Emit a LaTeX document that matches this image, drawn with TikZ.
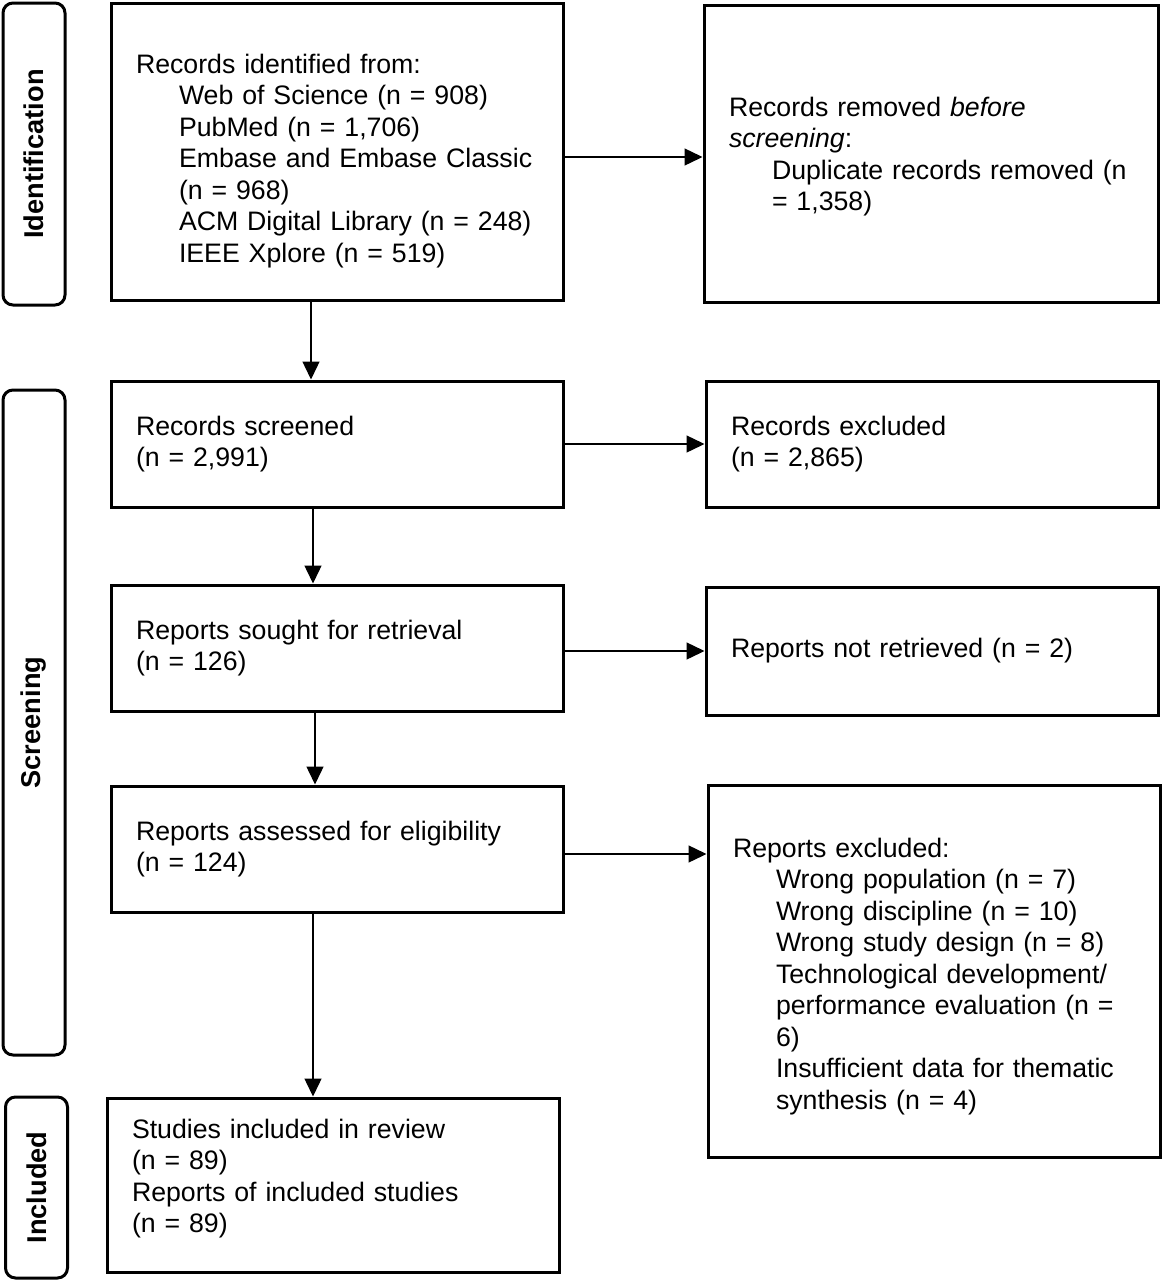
\documentclass[tikz,border=0pt]{standalone}
\usepackage{fontspec}
\setmainfont{Liberation Sans}
\usetikzlibrary{arrows.meta}

\newcommand{\ind}[1]{\mbox{\hspace*{21.5pt}#1}}

\begin{document}
\begin{tikzpicture}[x=0.5pt,y=-0.5pt,
    font=\fontsize{13.35}{15.75}\selectfont,
    box/.style={draw,line width=1.5pt,minimum width=226pt,text width=201pt,
      inner xsep=12.5pt,align=left},
    phase/.style={draw,line width=1.5pt,rounded corners=5pt,rotate=90,
      minimum height=31pt,font=\fontsize{13.6}{15.75}\selectfont\bfseries},
    arr/.style={line width=0.7pt,-{Triangle[length=9pt,width=8.5pt]}}]
  \useasboundingbox (0,0) rectangle (1162,1280);
  % phases
  \node[phase,minimum width=151pt] (lid) at (34,154) {Identification};
  \node[phase,minimum width=332.5pt] (lsc) at (34,722.5) {Screening};
  \node[phase,minimum width=90.5pt] (lin) at (36.5,1187.5) {Included};
  % left column
  \node[box,minimum height=148.5pt] (idf) at (337,151.5) {\rule{0pt}{19pt}Records identified from:\\
    \ind{Web of Science (n = 908)}\\ \ind{PubMed (n = 1,706)}\\
    \ind{Embase and Embase Classic}\\ \ind{(n = 968)}\\
    \ind{ACM Digital Library (n = 248)}\\ \ind{IEEE Xplore (n = 519)}};
  \node[box,minimum height=63pt] (scr) at (337,444) {Records screened\\(n = 2,991)};
  \node[box,minimum height=63pt] (sou) at (337,648) {Reports sought for retrieval\\(n = 126)};
  \node[box,minimum height=63pt] (asd) at (337,849) {Reports assessed for eligibility\\(n = 124)};
  \node[box,minimum height=87pt] (inc) at (333,1185) {Studies included in review\\(n = 89)\\
    Reports of included studies\\(n = 89)\rule[-9pt]{0pt}{9pt}};
  % right column
  \node[box,minimum width=227pt,text width=202pt,minimum height=148.5pt] (rem) at (931,153.5)
    {\rule{0pt}{13pt}\mbox{Records removed \textit{before}}\\ \textit{screening}:\\
    \ind{Duplicate records removed (n}\\ \ind{= 1,358)}};
  \node[box,minimum height=63pt] (rex) at (932,444) {Records excluded\\(n = 2,865)};
  \node[box,minimum height=64pt] (ret) at (932,651) {Reports not retrieved (n = 2)};
  \node[box,minimum height=186pt] (exc) at (934,971) {\rule{0pt}{15pt}Reports excluded:\\
    \ind{Wrong population (n = 7)}\\ \ind{Wrong discipline (n = 10)}\\
    \ind{Wrong study design (n = 8)}\\ \ind{Technological development/}\\
    \ind{performance evaluation (n =}\\ \ind{6)}\\
    \ind{Insufficient data for thematic}\\ \ind{synthesis (n = 4)}};
  % arrows
  \draw[arr] ([xshift=-13pt]idf.south) -- ([xshift=-13pt]idf.south |- scr.north);
  \draw[arr] ([xshift=-12pt]scr.south) -- ([xshift=-12pt]scr.south |- sou.north);
  \draw[arr] ([xshift=-11pt]sou.south) -- ([xshift=-11pt]sou.south |- asd.north);
  \draw[arr] ([xshift=-12pt]asd.south) -- ([xshift=-12pt]asd.south |- inc.north);
  \draw[arr] ([yshift=-2.75pt]idf.east) -- ([yshift=-2.75pt]idf.east -| rem.west);
  \draw[arr] (scr.east) -- (scr.east -| rex.west);
  \draw[arr] ([yshift=-1.5pt]sou.east) -- ([yshift=-1.5pt]sou.east -| ret.west);
  \draw[arr] ([yshift=-2.5pt]asd.east) -- ([yshift=-2.5pt]asd.east -| exc.west);
\end{tikzpicture}
\end{document}
